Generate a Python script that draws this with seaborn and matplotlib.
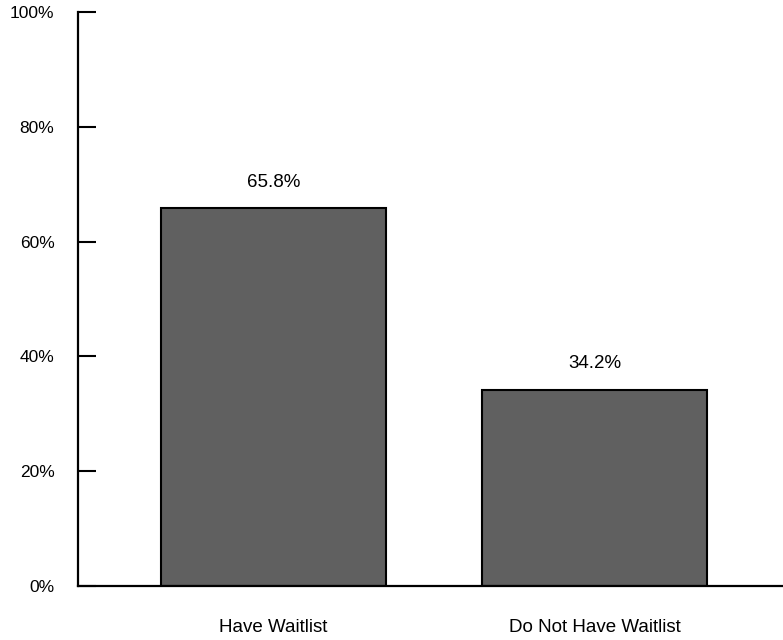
import matplotlib
matplotlib.use("Agg")
import matplotlib.pyplot as plt
import seaborn as sns
import pandas as pd

# Data
categories = ["Have Waitlist", "Do Not Have Waitlist"]
values = [65.8, 34.2]
yticks = [0, 20, 40, 60, 80, 100]

df = pd.DataFrame({"category": categories, "value": values})

sns.set_style("white")
plt.rcParams["font.family"] = ["Liberation Sans Narrow", "Liberation Sans", "DejaVu Sans"]
plt.rcParams["text.color"] = "black"

fig = plt.figure(figsize=(7.83, 6.4), dpi=100)
ax = fig.add_axes([78 / 783, 1 - 586 / 640, 1 - 78 / 783, (586 - 12) / 640])

sns.barplot(data=df, x="category", y="value", color="#606060", width=0.7,
            edgecolor="black", linewidth=1.5, saturation=1, ax=ax)

# value labels above bars
for i, v in enumerate(values):
    ax.text(i, v + 3.0, f"{v:.1f}%", ha="center", va="bottom", fontsize=13.5, color="black")

ax.set_ylim(0, 100)
ax.set_xlim(-0.609, 1.587)
ax.set_yticks(yticks)
ax.set_yticklabels([f"{t}%" for t in yticks], fontsize=12.5)
ax.tick_params(axis="y", left=True, direction="in", length=13, width=1.5, pad=17,
               colors="black")
ax.tick_params(axis="x", bottom=False, length=0, pad=24, labelsize=13.5, colors="black")
ax.set_xlabel("")
ax.set_ylabel("")

for side in ["top", "right"]:
    ax.spines[side].set_visible(False)
ax.spines["left"].set_linewidth(1.6)
ax.spines["bottom"].set_linewidth(1.6)
ax.spines["left"].set_color("black")
ax.spines["bottom"].set_color("black")

fig.savefig("out.png", dpi=100)
